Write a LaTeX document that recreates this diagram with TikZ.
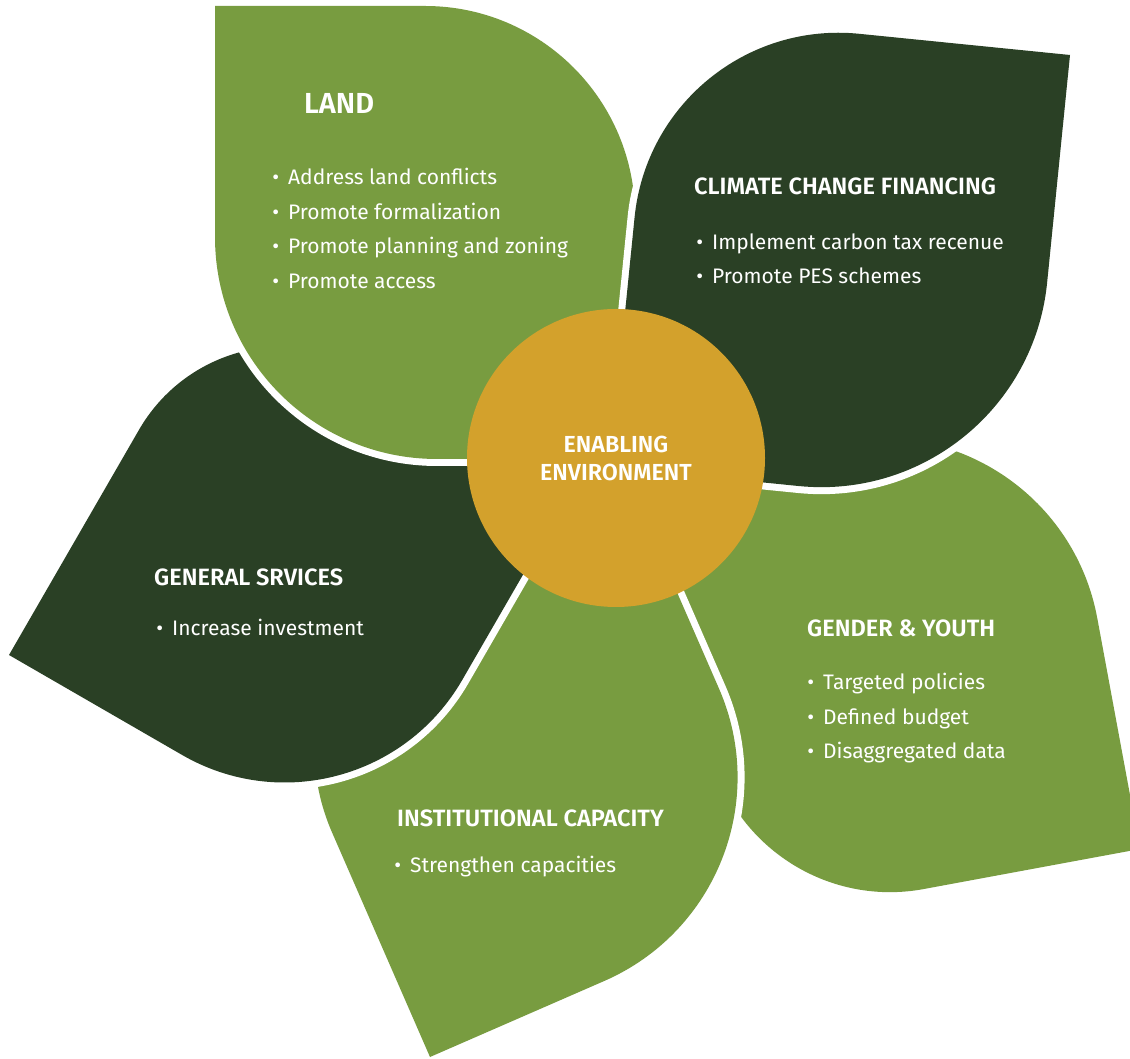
\documentclass[tikz,border=0pt]{standalone}
\usepackage{fontspec}
\setmainfont{Fira Sans}
\IfFontExistsTF{Fira Sans SemiBold}{\newfontfamily\titlefont{Fira Sans SemiBold}}{\newcommand\titlefont{\bfseries}}
\definecolor{lgreen}{HTML}{789C40}
\definecolor{dgreen}{HTML}{2A4025}
\definecolor{gold}{HTML}{D3A12C}
% petal: #1 colour, #2 cm spec, #3 W, #4 H, #5 r1, #6 r2
\newcommand\petal[6]{%
  \pgfmathsetmacro\pA{#3-#5}%
  \pgfmathsetmacro\pB{#3-#5+0.5523*#5}%
  \pgfmathsetmacro\pC{#5-0.5523*#5}%
  \pgfmathsetmacro\pD{#6-0.5523*#6}%
  \pgfmathsetmacro\pE{#4-#6}%
  \pgfmathsetmacro\pF{#4-#6+0.5523*#6}%
  \fill[#1, cm={#2}, preaction={draw=white, line width=14pt}]
    (0,0) -- (\pA,0) .. controls (\pB,0) and (#3,\pC) .. (#3,#5) -- (#3,#4)
    -- (#6,#4) .. controls (\pD,#4) and (0,\pF) .. (0,\pE) -- cycle;
}
\newcommand\bul{\llap{\textbullet\hspace{9pt}}}
\tikzset{
  ttl/.style={text=white, font=\titlefont\fontsize{23.6}{23.6}\selectfont, inner sep=0pt, anchor=base west},
  itm/.style={text=white, font=\fontsize{21}{21}\selectfont, inner sep=0pt, anchor=base west},
}
\begin{document}
\begin{tikzpicture}[x=1pt,y=1pt]
\useasboundingbox (0,0) rectangle (1130,1058);
\clip (0,0) rectangle (1130,1058);
% petals, bottom to top
\petal{lgreen}{-0.983,-0.182,-0.182,0.983,(1140,209)}{405}{455}{185}{220}
\petal{lgreen}{0.917,0.400,-0.400,0.917,(430,1)}{412}{455}{222}{210}
\petal{dgreen}{0.866,-0.5,0.5,0.866,(9,403)}{405}{427}{205}{167}
\petal{lgreen}{1,0,0,-1,(215,1052)}{420}{453}{210}{222}
\petal{dgreen}{-0.995,0.100,-0.100,-0.995,(1070,1003)}{417}{456}{205}{227}
% hub
\node[circle, fill=gold, minimum size=298pt, inner sep=0pt, align=center, text=white,
      font=\titlefont\fontsize{23.2}{28}\selectfont] (hub) at (616,600) {ENABLING\\ENVIRONMENT};
% LAND
\node[ttl, font=\titlefont\fontsize{29}{29}\selectfont] (landT) at (304,944) {LAND};
\node[itm] (land1) at (288,873) {\bul Address land conflicts};
\node[itm] (land2) at (288,838.5) {\bul Promote formalization};
\node[itm] (land3) at (288,804) {\bul Promote planning and zoning};
\node[itm] (land4) at (288,769.5) {\bul Promote access};
% CLIMATE
\node[ttl] (climT) at (694,863) {CLIMATE CHANGE FINANCING};
\node[itm] (clim1) at (712,808.5) {\bul Implement carbon tax recenue};
\node[itm] (clim2) at (712,774) {\bul Promote PES schemes};
% GENDER
\node[ttl] (gendT) at (807,421) {GENDER \& YOUTH};
\node[itm] (gend1) at (823,368) {\bul Targeted policies};
\node[itm] (gend2) at (823,333) {\bul Defined budget};
\node[itm] (gend3) at (823,299.5) {\bul Disaggregated data};
% GENERAL
\node[ttl] (genT) at (154,472) {GENERAL SRVICES};
\node[itm] (gen1) at (172,422) {\bul Increase investment};
% INSTITUTIONAL
\node[ttl] (instT) at (397,231) {INSTITUTIONAL CAPACITY};
\node[itm] (inst1) at (410,185) {\bul Strengthen capacities};
\end{tikzpicture}
\end{document}
